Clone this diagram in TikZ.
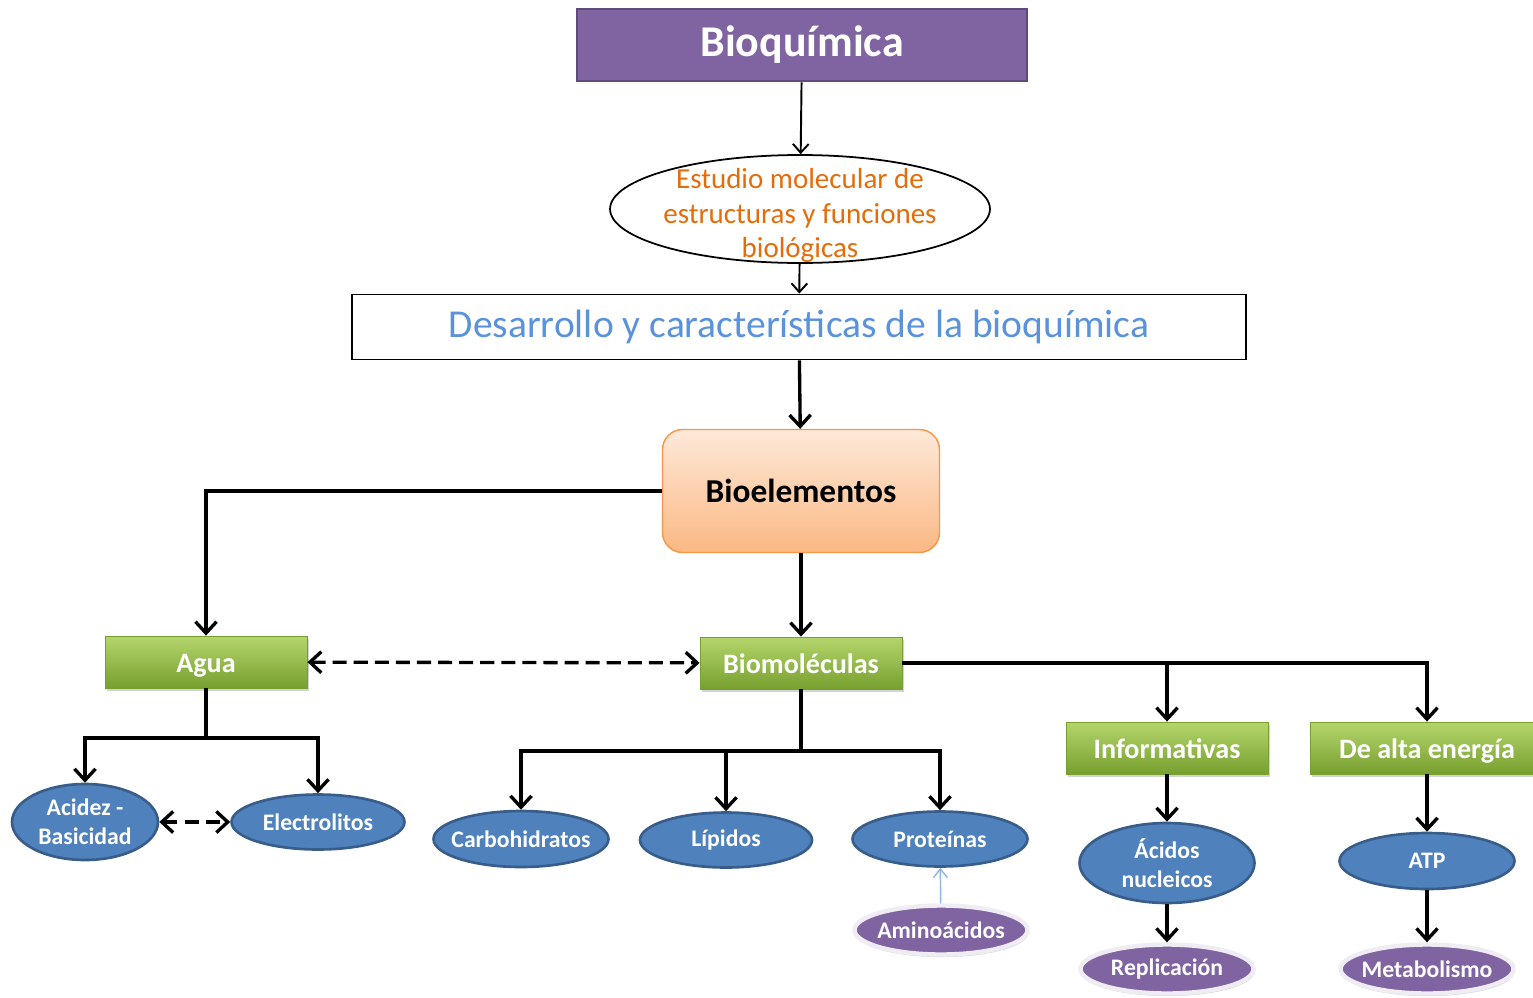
\documentclass[tikz,border=0pt]{standalone}
\usepackage{fontspec}
\setmainfont{Carlito}
\usetikzlibrary{shapes.geometric,arrows.meta,shadows}

\definecolor{morado}{HTML}{8064A2}
\definecolor{moradoosc}{HTML}{5F4B7A}
\definecolor{azul}{HTML}{4F81BD}
\definecolor{azulosc}{HTML}{385D8A}
\definecolor{azulclaro}{HTML}{8EB4E3}
\definecolor{azultexto}{HTML}{5A92DB}
\definecolor{naranja}{HTML}{E46C0A}
\definecolor{naranjaborde}{HTML}{F79646}
\definecolor{naranjaarriba}{HTML}{FDE9D9}
\definecolor{naranjaabajo}{HTML}{FBB883}
\definecolor{verdearriba}{HTML}{B5D56C}
\definecolor{verdeabajo}{HTML}{77A02F}

\tikzset{
  titulo/.style={rectangle, fill=morado, draw=moradoosc, line width=1.5pt,
    minimum width=9cm, minimum height=1.44cm, text=white,
    font=\fontsize{25}{29}\selectfont\bfseries},
  estudio/.style={ellipse, draw=black, line width=1pt,
    minimum width=7.6cm, minimum height=2.16cm, inner sep=0pt},
  estudiotexto/.style={align=center, text=naranja, yshift=-0.13cm,
    font=\fontsize{16.5}{19.5}\selectfont},
  desarrollo/.style={rectangle, draw=black, line width=1.1pt,
    minimum width=17.88cm, minimum height=1.3cm, text=azultexto,
    font=\fontsize{22.5}{26}\selectfont},
  bioelem/.style={rectangle, rounded corners=0.4cm, draw=naranjaborde, line width=0.8pt,
    top color=naranjaarriba, bottom color=naranjaabajo,
    minimum width=5.54cm, minimum height=2.46cm,
    font=\fontsize{19}{22}\selectfont\bfseries},
  verde/.style={rectangle, draw=verdeabajo, line width=0.5pt,
    top color=verdearriba, bottom color=verdeabajo,
    drop shadow={shadow xshift=1pt, shadow yshift=-1.5pt, opacity=0.35},
    minimum width=4.04cm, minimum height=1.04cm, text=white,
    text height=11.4pt, text depth=0pt,
    font=\fontsize{16}{19}\selectfont\bfseries},
  elipse/.style={ellipse, fill=azul, draw=azulosc, line width=1.5pt, align=center,
    minimum width=3.5cm, minimum height=1.12cm, inner xsep=-2cm, inner ysep=-0.4cm,
    text=white, font=\fontsize{13.5}{16.5}\selectfont\bfseries},
  elipsemorada/.style={ellipse, fill=morado, draw=white!88!morado, line width=2.5pt,
    drop shadow={shadow xshift=0.5pt, shadow yshift=-1.5pt, opacity=0.3},
    minimum width=3.46cm, minimum height=0.98cm, inner xsep=-2cm, inner ysep=-0.3cm,
    text=white, font=\fontsize{13.5}{16.5}\selectfont\bfseries},
  flecha/.style={->, line width=1.9pt},
  flechafina/.style={->, line width=1.1pt, >={Straight Barb[length=5pt,width=9pt]}},
  flechadoble/.style={<->, line width=1.9pt, dash pattern=on 8pt off 4pt},
  flechaamino/.style={->, draw=azulclaro, line width=0.8pt, >={Straight Barb[length=5pt,width=8pt]}}
}

\begin{document}
\begin{tikzpicture}[x=0.02cm, y=-0.02cm, >={Straight Barb[length=6.5pt,width=12pt]}]
  \useasboundingbox (0,0) rectangle (1533,997);
  \node[titulo] (bioq) at (802,45) {Bioquímica};
  \node[estudio, label={[estudiotexto]center:Estudio molecular de\\estructuras y funciones\\biológicas}] (estudio) at (800,209) {};
  \node[desarrollo] (desarr) at (799,327) {Desarrollo y características de la bioquímica};
  \node[bioelem] (bioel) at (801,491) {Bioelementos};
  %% Green boxes
  \node[verde] (agua) at (206,662) {Agua};
  \node[verde] (biomol) at (801,663) {Biomoléculas};
  \node[verde] (inform) at (1167,748) {Informativas};
  \node[verde, minimum width=4.68cm] (alta) at (1427,748) {De alta energía};
  %% Blue ellipses
  \node[elipse, minimum width=2.92cm, minimum height=1.52cm] (acidez) at (85,822) {Acidez -\\Basicidad};
  \node[elipse, minimum width=3.46cm, minimum height=1.1cm] (electro) at (318,822) {Electrolitos};
  \node[elipse] (carbo) at (521,839) {Carbohidratos};
  \node[elipse, minimum width=3.44cm, minimum height=1.1cm] (lipidos) at (726,840) {Lípidos};
  \node[elipse, minimum height=1.1cm] (prote) at (940,839) {Proteínas};
  \node[elipse, minimum height=1.6cm] (acidos) at (1167,863) {Ácidos\\nucleicos};
  \node[elipse] (atp) at (1427,861) {ATP};
  %% Purple ellipses
  \node[elipsemorada] (amino) at (941,930) {Aminoácidos};
  \node[elipsemorada] (replic) at (1167,969) {Replicación};
  \node[elipsemorada] (metab) at (1427,969) {Metabolismo};
  %% Branch points
  \coordinate (ramaagua) at (206,738);
  \coordinate (ramabio) at (801,751);
  %% Vertical arrows
  \draw[flechafina] (bioq) -- (estudio);
  \draw[flechafina] (estudio) -- (desarr);
  \draw[flecha] (desarr) -- (bioel);
  \draw[flecha] (bioel) -- (biomol);
  \draw[flecha] (bioel.west) -| (agua);
  %% Water branch
  \draw[flecha] (agua) -- (ramaagua) -| (acidez);
  \draw[flecha] (ramaagua) -| (electro);
  \draw[flechadoble] (acidez) -- (electro);
  \draw[flechadoble] (agua) -- (biomol);
  %% Biomolecules branch
  \draw[flecha] (biomol) -- (ramabio) -| (carbo);
  \draw[flecha] (ramabio) -| (lipidos);
  \draw[flecha] (ramabio) -| (prote);
  \draw[flecha] (biomol) -| (inform);
  \draw[flecha] (biomol) -| (alta);
  \draw[flechaamino] (amino) -- (prote);
  %% Right columns
  \draw[flecha] (inform) -- (acidos);
  \draw[flecha] (acidos) -- (replic);
  \draw[flecha] (alta) -- (atp);
  \draw[flecha] (atp) -- (metab);
\end{tikzpicture}
\end{document}
